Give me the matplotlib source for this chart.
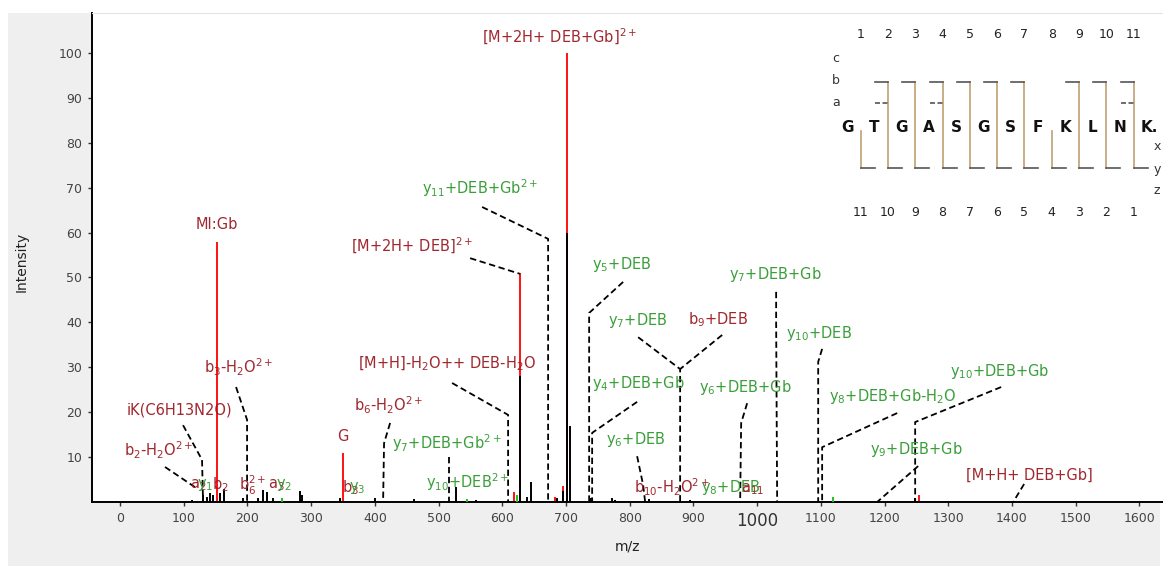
import numpy as np
import matplotlib.pyplot as plt
from matplotlib.patches import Rectangle

# ---- peak list (m/z, relative intensity) ----
black_mz = [113, 130, 136.6, 141, 146, 157, 163, 193, 216.6, 224.5, 230.8, 240,
            282.6, 285.7, 345.4, 400.3, 461.5, 527.5, 559, 628, 639, 645, 686,
            695.5, 702, 706, 738, 741, 772, 777, 830, 895, 1248]
black_int = [0.5, 1.5, 1.2, 2.0, 1.5, 2.0, 2.8, 1.0, 0.8, 2.7, 2.2, 1.0,
             2.5, 1.6, 0.8, 0.8, 0.6, 3.3, 0.5, 28, 1.2, 4.5, 1.0,
             2.5, 60, 17, 1.0, 0.8, 0.8, 0.5, 0.6, 0.5, 1.0]
red_mz = [152.5, 350, 618.5, 628, 683, 695.5, 702, 1254]
red_int = [58, 11, 2.2, 51, 1.2, 3.6, 100, 1.5]
green_mz = [254, 545, 623, 1119]
green_int = [0.8, 0.6, 1.6, 1.2]

# ---- annotated ions ----
ion_labels = [
    r"[M+2H+ DEB+Gb]$^{2+}$", "MI:Gb", r"[M+2H+ DEB]$^{2+}$",
    r"y$_{11}$+DEB+Gb$^{2+}$", r"y$_{5}$+DEB", r"[M+H]-H$_{2}$O++ DEB-H$_{2}$O",
    r"y$_{7}$+DEB", r"b$_{9}$+DEB", r"y$_{4}$+DEB+Gb", r"y$_{6}$+DEB",
    r"y$_{6}$+DEB+Gb", r"y$_{7}$+DEB+Gb", r"y$_{10}$+DEB", r"y$_{8}$+DEB+Gb-H$_{2}$O",
    r"y$_{10}$+DEB+Gb", r"y$_{9}$+DEB+Gb", "[M+H+ DEB+Gb]",
    r"b$_{3}$-H$_{2}$O$^{2+}$", "iK(C6H13N2O)", r"b$_{2}$-H$_{2}$O$^{2+}$",
    r"b$_{6}$-H$_{2}$O$^{2+}$", r"y$_{7}$+DEB+Gb$^{2+}$", r"y$_{10}$+DEB$^{2+}$",
    "G", r"b$_{10}$-H$_{2}$O$^{2+}$", r"y$_{8}$+DEB", r"a$_{11}$",
    r"a$_{2}$", r"y$_{1}$", r"b$_{2}$", r"b$_{6}^{2+}$", r"a$_{3}$", r"y$_{2}$",
    r"b$_{3}$", r"y$_{3}$",
]
ion_type = ["b", "b", "b", "y", "y", "b", "y", "b", "y", "y", "y", "y", "y", "y",
            "y", "y", "b", "b", "b", "b", "b", "y", "y", "b", "b", "y", "b",
            "b", "y", "b", "b", "b", "y", "b", "y"]
ion_mz = [702, 152.5, 628, 671.9, 736.3, 609.1, 879.1, 879.1, 741, 824.2,
          973.3, 1031.4, 1095.8, 1102, 1248, 1188.4, 1401.9,
          199.4, 130.3, 117.7, 412.9, 516.5, 546, 350, 866, 958, 992,
          122, 133, 157, 209, 246, 256, 361, 372]

# ---- label layout (label centre, leader bend points, leader end height) ----
label_pos = [(690, 103.6), (152, 61.9), (458, 57.0), (565, 69.9), (788, 52.8),
             (513, 30.7), (812, 40.5), (939, 40.5), (813, 26.3), (810, 14.0),
             (981, 25.6), (1028, 50.6), (1097, 37.6), (1213, 23.4), (1381, 29.0),
             (1250, 11.6), (1427, 6.0), (187, 30.1), (94, 20.5), (60, 11.6),
             (421, 21.6), (513, 13.1), (546, 4.5), (350, 14.5), (867, 3.3),
             (958, 3.3), (993, 2.9), (122, 3.8), (134, 3.8), (158, 3.8), (209, 3.8),
             (246, 3.8), (257, 3.8), (361, 3.1), (372, 3.1)]
bends = {2: [(549.5, 54.3)], 3: [(568.3, 65.7), (671.9, 58.6)],
         4: [(789.6, 49.0), (736.3, 42.1)], 5: [(521.2, 26.5), (609.1, 19.4)],
         6: [(813.2, 36.7), (879.1, 29.6)], 7: [(945.1, 37.2)],
         8: [(811.6, 22.3), (741, 15.4)], 9: [(811.6, 10.2), (821, 3.8)],
         10: [(984.3, 22.0), (974.9, 17.6)], 11: [(1029.8, 46.8), (1029.8, 40.1)],
         12: [(1102, 34.1), (1095.8, 31.2)], 13: [(1219.8, 19.8), (1102, 12.2)],
         14: [(1383.0, 25.6), (1248, 17.8)], 15: [(1252.7, 8.0)],
         16: [(1419, 4.0)], 17: [(182.1, 25.6), (199.4, 18.3)],
         18: [(98.9, 17.1), (128.7, 9.4)], 19: [(70.6, 7.8)],
         20: [(423.9, 17.6), (414.4, 13.1)], 21: [(516.5, 10.0)]}
leader_end = {2: 50.8, 7: 29.6, 19: 3.3}

# ---- sequence coverage ----
sequence = "GTGASGSFKLN"
b_ions = [2, 3, 4, 5, 6, 7, 9, 10, 11]
a_ions = [2, 4, 11]
y_ions = list(range(1, 12))

red_txt = "#9b1c24"
green_txt = "#2f9a2f"

fig = plt.figure(figsize=(11.63, 5.74), dpi=100)
fig.patch.set_facecolor("white")
fig.patches.append(Rectangle((8 / 1163, 8 / 574), 1152 / 1163, 553 / 574,
                             transform=fig.transFigure, facecolor="#efefef",
                             edgecolor="none", zorder=-5))

ax = fig.add_axes([92 / 1163, 72 / 574, 1071 / 1163, 489 / 574])
ax.set_facecolor("white")
ax.set_xlim(-44, 1637)
ax.set_ylim(0, 108.9)

ax.vlines(red_mz, 0, red_int, color="#ff1010", lw=1.4, zorder=2)
ax.vlines(black_mz, 0, black_int, color="black", lw=1.4, zorder=3)
ax.vlines(green_mz, 0, green_int, color="#20c020", lw=1.4, zorder=3)

for i, txt in enumerate(ion_labels):
    col = red_txt if ion_type[i] == "b" else green_txt
    x, y = label_pos[i]
    ax.text(x, y, txt, color=col, fontsize=10.5, ha="center", va="center",
            zorder=5, alpha=0.95)
    if i in bends:
        pts = bends[i] + [(ion_mz[i], leader_end.get(i, 0))]
        if i == 7:
            pts = bends[i] + [(ion_mz[i], leader_end[i])]
        xs, ys = zip(*pts)
        ax.plot(xs, ys, color="black", lw=1.3, ls=(0, (3.5, 2)), zorder=4)

ax.set_xticks(np.arange(0, 1700, 100))
ax.set_yticks(np.arange(10, 110, 10))
ax.tick_params(axis="both", length=3, width=1, color="#333333",
               labelsize=9, labelcolor="#444444", pad=4)
for lab in ax.get_xticklabels():
    if lab.get_text() == "1000":
        lab.set_fontsize(12)
        lab.set_color("#333333")
for s in ["right"]:
    ax.spines[s].set_visible(False)
ax.spines["top"].set_color("#e4e4e4")
ax.spines["left"].set_linewidth(1.4)
ax.spines["bottom"].set_linewidth(1.4)

# overlay in pixel coordinates for axis titles and the sequence map
ov = fig.add_axes([0, 0, 1, 1])
ov.set_xlim(0, 1163)
ov.set_ylim(574, 0)
ov.axis("off")
ov.text(22, 262, "Intensity", rotation=90, ha="center", va="center",
        fontsize=10, color="#222222")
ov.text(627, 546, "m/z", ha="center", va="center", fontsize=10, color="#222222")

x0, step = 847, 27.3
for k, aa in enumerate(sequence + "K."):
    pass
for k, aa in enumerate(sequence):
    ov.text(x0 + k * step, 128, aa, ha="center", va="center", fontsize=11,
            fontweight="bold", color="#111111")
ov.text(x0 + 11 * step + 2, 128, "K.", ha="center", va="center", fontsize=11,
        fontweight="bold", color="#111111")

tan, grey = "#bf9f73", "#555555"
for i in range(1, 12):
    sx = x0 + (i - 0.5) * step
    ov.text(sx, 35, str(i), ha="center", va="center", fontsize=9, color="#222222")
    ov.text(sx, 213, str(12 - i), ha="center", va="center", fontsize=9,
            color="#222222")
    top = 82 if i in b_ions else 131
    ov.plot([sx, sx], [top, 168], color=tan, lw=1.2)
    if i in b_ions:
        ov.plot([sx - 13, sx], [82, 82], color=grey, lw=1.2)
    if i in a_ions:
        ov.plot([sx - 13, sx], [103, 103], color=grey, lw=1.2, ls=(0, (3, 1.5)))
    if (12 - i) in y_ions:
        ov.plot([sx, sx + 14], [168, 168], color=grey, lw=1.2)
for lab, yy in zip("cba", [58, 80, 102]):
    ov.text(836, yy, lab, ha="center", va="center", fontsize=9, color="#333333")
for lab, yy in zip("xyz", [147, 169, 190]):
    ov.text(1157, yy, lab, ha="center", va="center", fontsize=9, color="#333333")

fig.savefig("out.png", dpi=100)
